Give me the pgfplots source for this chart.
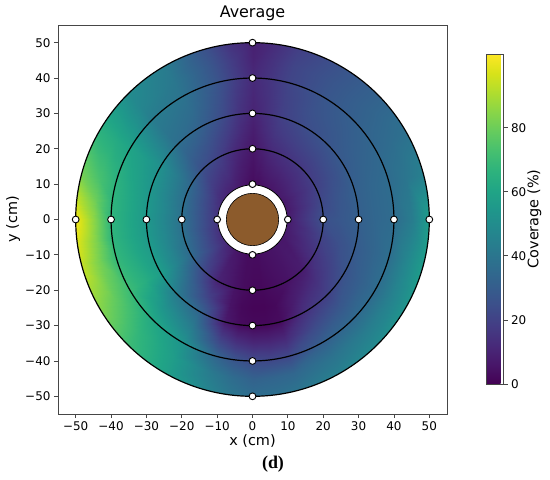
\documentclass[border=0pt]{standalone}
\usepackage{fontspec}
\setmainfont{DejaVu Sans}
\newfontfamily\seriffont{Liberation Serif}
\usepackage{pgfplots}
\usepackage{pgfplotstable}
\pgfplotsset{compat=1.18}
\usetikzlibrary{calc}
\definecolor{brownc}{RGB}{140,91,44}
\definecolor{framec}{RGB}{70,70,70}
% coverage (%) on a polar grid: a = angle (deg), r = radius (cm), v = coverage
\pgfplotstableread{
a r v
0 9.5 7
15 9.5 6
30 9.5 6
45 9.5 6
60 9.5 5
75 9.5 4
82.5 9.5 3
90 9.5 3
97.5 9.5 4
105 9.5 5
120 9.5 8
135 9.5 9
150 9.5 11
165 9.5 13
172.5 9.5 14
180 9.5 14
187.5 9.5 14
195 9.5 13
210 9.5 12
225 9.5 10
240 9.5 6
255 9.5 4
262.5 9.5 3
270 9.5 3
277.5 9.5 3
285 9.5 4
300 9.5 5
315 9.5 6
330 9.5 6
345 9.5 7
360 9.5 7
0 20 25
15 20 22
30 20 19
45 20 17
60 20 15
75 20 12
82.5 20 9
90 20 6
97.5 20 9
105 20 12
120 20 20
135 20 25
150 20 34
165 20 37
172.5 20 38
180 20 38
187.5 20 38
195 20 38
210 20 35
225 20 23
240 20 10
255 20 5
262.5 20 3
270 20 2
277.5 20 2
285 20 3
300 20 5
315 20 8
330 20 15
345 20 20
360 20 25
0 25 28
15 25 27
30 25 24
45 25 22
60 25 20
75 25 16
82.5 25 12
90 25 8
97.5 25 12
105 25 17
120 25 26
135 25 31
150 25 43
165 25 46
172.5 25 47
180 25 47
187.5 25 47
195 25 47
210 25 46
225 25 33
240 25 20
255 25 5
262.5 25 2
270 25 1
277.5 25 1
285 25 2
300 25 9
315 25 14
330 25 20
345 25 25
360 25 28
0 30 31
15 30 31
30 30 29
45 30 27
60 30 24
75 30 19
82.5 30 14
90 30 10
97.5 30 15
105 30 22
120 30 32
135 30 37
150 30 51
165 30 54
172.5 30 55
180 30 55
187.5 30 55
195 30 56
210 30 57
225 30 42
240 30 33
255 30 7
262.5 30 3
270 30 2
277.5 30 2
285 30 3
300 30 15
315 30 20
330 30 26
345 30 29
360 30 31
0 35 34
15 35 34
30 35 32
45 35 29
60 35 26
75 35 20
82.5 35 15
90 35 11
97.5 35 17
105 35 25
120 35 36
135 35 40
150 35 56
165 35 60
172.5 35 61
180 35 61
187.5 35 61
195 35 62
210 35 64
225 35 52
240 35 43
255 35 20
262.5 35 14
270 35 11
277.5 35 11
285 35 12
300 35 23
315 35 28
330 35 31
345 35 33
360 35 34
0 40 36
15 40 36
30 40 34
45 40 31
60 40 27
75 40 21
82.5 40 16
90 40 12
97.5 40 19
105 40 27
120 40 39
135 40 43
150 40 60
165 40 66
172.5 40 67
180 40 67
187.5 40 67
195 40 68
210 40 70
225 40 62
240 40 53
255 40 33
262.5 40 27
270 40 23
277.5 40 22
285 40 22
300 40 31
315 40 35
330 40 36
345 40 37
360 40 36
0 45 43
15 45 40
30 45 36
45 45 32
60 45 27
75 45 21
82.5 45 15
90 45 10
97.5 45 18
105 45 27
120 45 41
135 45 47
150 45 63
165 45 73
172.5 45 80
180 45 86
187.5 45 84
195 45 82
210 45 78
225 45 67
240 45 57
255 45 42
262.5 45 36
270 45 32
277.5 45 33
285 45 34
300 45 39
315 45 43
330 45 45
345 45 47
360 45 43
0 50.5 58
15 50.5 45
30 50.5 38
45 50.5 32
60 50.5 26
75 50.5 19
82.5 50.5 13
90 50.5 9
97.5 50.5 15
105 50.5 25
120 50.5 43
135 50.5 50
150 50.5 66
165 50.5 82
172.5 50.5 94
180 50.5 103
187.5 50.5 99
195 50.5 95
210 50.5 85
225 50.5 71
240 50.5 59
255 50.5 47
262.5 50.5 41
270 50.5 37
277.5 50.5 38
285 50.5 40
300 50.5 45
315 50.5 50
330 50.5 54
345 50.5 58
360 50.5 58
}\coverage
\begin{document}
\begin{tikzpicture}
\path[use as bounding box] (-58bp,-66bp) rectangle (492bp,414bp);
\begin{axis}[
  at={(0,0)}, anchor=south west,
  scale only axis, width=389bp, height=389bp,
  xmin=-55, xmax=55, ymin=-55, ymax=55,
  axis on top,
  xtick={-50,-40,...,50}, ytick={-50,-40,...,50},
  xticklabels={−50,−40,−30,−20,−10,0,10,20,30,40,50},
  yticklabels={−50,−40,−30,−20,−10,0,10,20,30,40,50},
  tick pos=left, tick align=outside, major tick length=4bp,
  tick style={framec, line width=0.8bp},
  axis line style={framec, line width=0.8bp},
  ticklabel style={font=\fontsize{12}{14}\selectfont},
  xlabel={x (cm)}, ylabel={y (cm)},
  xlabel style={font=\fontsize{14.5}{16}\selectfont, at={(axis description cs:0.5,-0.0686)}, anchor=center},
  ylabel style={font=\fontsize{14.5}{16}\selectfont, at={(axis description cs:-0.115,0.5)}, anchor=center},
  colormap/viridis,
  point meta min=0, point meta max=103,
  colorbar,
  colorbar style={
    at={($(parent axis.south east)+(31bp,30bp)$)}, anchor=south west,
    scale only axis, width=17bp, height=330bp,
    ytick={0,20,40,60,80}, yticklabels={0,20,40,60,80},
    ytick pos=right, yticklabel pos=right,
    tick align=outside, major tick length=4bp,
    tick style={framec, line width=0.8bp},
    axis line style={framec, line width=0.8bp},
    yticklabel style={font=\fontsize{12}{14}\selectfont},
    ylabel={Coverage (\%)},
    ylabel style={font=\fontsize{14.5}{16}\selectfont, at={(axis description cs:2.82,0.5)}, anchor=center, rotate=0},
  },
]
\addplot[surf, shader=interp, mesh/rows=8, point meta=explicit, data cs=polar]
  table[x=a, y=r, meta=v] {\coverage};
\fill[white, even odd rule] (axis cs:0,0) circle[radius=50] (axis cs:-54.8,-54.8) rectangle (axis cs:54.8,54.8);
\draw[black, line width=1.2bp] (axis cs:0,0) circle[radius=50];
\draw[black, line width=1.2bp] (axis cs:0,0) circle[radius=40];
\draw[black, line width=1.2bp] (axis cs:0,0) circle[radius=30];
\draw[black, line width=1.2bp] (axis cs:0,0) circle[radius=20];
\draw[black, line width=0.8bp, fill=white] (axis cs:0,0) circle[radius=9.8];
\draw[black, line width=0.6bp, fill=brownc] (axis cs:0,0) circle[radius=7.4];
\addplot[only marks, mark=*, mark size=3.4bp, mark options={fill=white, draw=black, line width=0.9bp}]
  coordinates {(10,0) (20,0) (30,0) (40,0) (50,0) (-10,0) (-20,0) (-30,0) (-40,0) (-50,0)
               (0,10) (0,20) (0,30) (0,40) (0,50) (0,-10) (0,-20) (0,-30) (0,-40) (0,-50)};
\end{axis}
\node[font=\fontsize{16}{18}\selectfont] at (194.5bp,401bp) {Average};
\node[font=\seriffont\bfseries\fontsize{18}{20}\selectfont] at (215bp,-50bp) {(d)};
\end{tikzpicture}
\end{document}
